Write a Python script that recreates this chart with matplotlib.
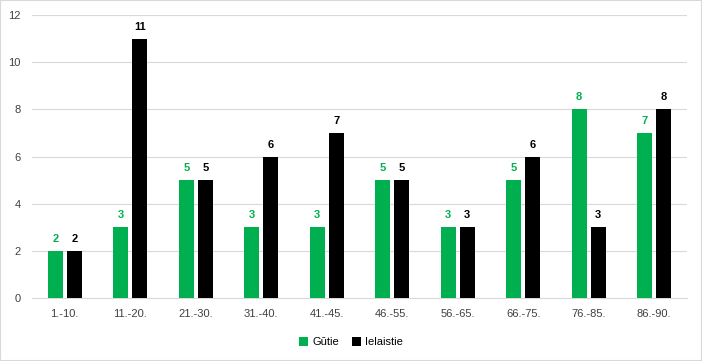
import numpy as np
import matplotlib.pyplot as plt
from matplotlib.patches import Rectangle

plt.rcParams['font.family'] = ['Liberation Sans', 'DejaVu Sans']

cats = ['1.-10.', '11.-20.', '21.-30.', '31.-40.', '41.-45.', '46.-55.',
        '56.-65.', '66.-75.', '76.-85.', '86.-90.']
gutie = [2, 3, 5, 3, 3, 5, 3, 5, 8, 7]
ielaistie = [2, 11, 5, 6, 7, 5, 3, 6, 3, 8]

green = '#00b050'
black = '#000000'

fig = plt.figure(figsize=(7.02, 3.61), dpi=100)
ax = fig.add_axes([0.0456, 0.1745, 0.933, 0.7835])

x = np.arange(len(cats))
w = 0.23
off = 0.145
b1 = ax.bar(x - off, gutie, w, color=green, label='Gūtie', zorder=3)
b2 = ax.bar(x + off, ielaistie, w, color=black, label='Ielaistie', zorder=3)

for rect, v in zip(b1, gutie):
    ax.text(rect.get_x() + rect.get_width() / 2, v + 0.3, str(v),
            ha='center', va='bottom', fontsize=8, fontweight='bold', color=green)
for rect, v in zip(b2, ielaistie):
    ax.text(rect.get_x() + rect.get_width() / 2, v + 0.3, str(v),
            ha='center', va='bottom', fontsize=8, fontweight='bold', color=black)

ax.set_xlim(-0.5, len(cats) - 0.5)
ax.set_ylim(0, 12)
ax.set_yticks(range(0, 13, 2))
ax.set_xticks(x)
ax.set_xticklabels(cats)
ax.grid(axis='y', color='#d9d9d9', linewidth=0.8, zorder=0)
for s in ['top', 'right', 'left']:
    ax.spines[s].set_visible(False)
ax.spines['bottom'].set_color('#d9d9d9')
ax.tick_params(axis='both', length=0, labelsize=8, colors='#404040', pad=8)

fig.legend(loc='lower center', ncol=2, frameon=False, fontsize=8,
           bbox_to_anchor=(0.5, 0.01), handlelength=0.8, handleheight=0.8,
           handletextpad=0.4, columnspacing=1.2)

fig.patches.append(Rectangle((0, 0), 1, 1, transform=fig.transFigure,
                             fill=False, edgecolor='#d9d9d9', linewidth=1.5))

fig.savefig('out.png', dpi=100)
